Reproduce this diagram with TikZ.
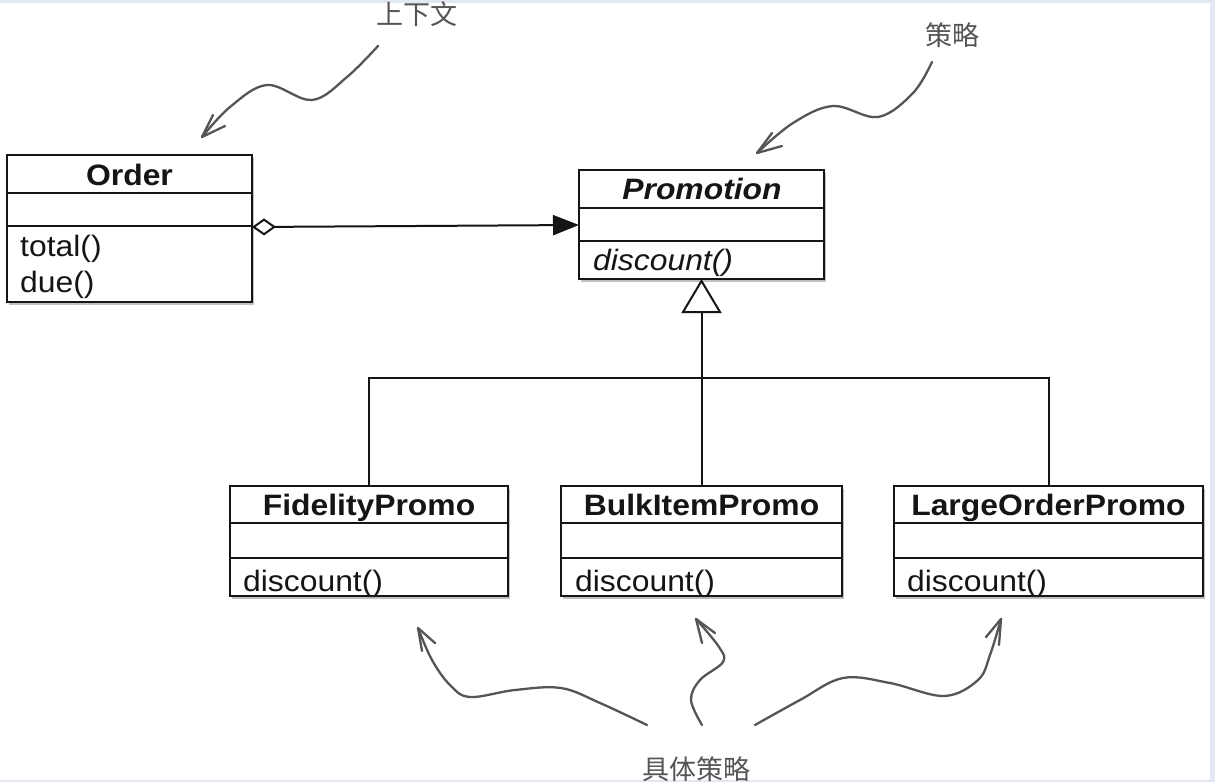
\documentclass[tikz,border=0pt]{standalone}
\usepackage{fontspec}
\usepackage{graphicx}
\setmainfont{Liberation Sans}
\newfontfamily\cjk{Noto Sans CJK SC}
\usetikzlibrary{arrows.meta,shadows,calc}
\definecolor{annot}{RGB}{85,85,85}
\definecolor{edgecol}{RGB}{226,231,243}
\definecolor{ink}{RGB}{22,20,20}
\newcommand{\stretchtxt}[1]{\scalebox{1.08}[1]{#1}}
\tikzset{
  classbox/.style={draw=ink, line width=2.3pt, fill=white, inner sep=0pt, outer sep=0pt,
    anchor=north west, drop shadow={shadow xshift=2pt, shadow yshift=-3pt, opacity=0.35, fill=black!70}},
  divider/.style={draw=ink, line width=2pt},
  ttl/.style={font=\fontsize{29.5}{34}\selectfont\bfseries, anchor=base, inner sep=0pt, text=ink},
  meth/.style={font=\fontsize{29.5}{34}\selectfont, anchor=base west, inner sep=0pt, text=ink},
  hand/.style={draw=annot, line width=2.3pt, line cap=round, line join=round},
  cn/.style={font=\cjk\fontsize{27}{30}\selectfont, text=annot, inner sep=0pt}
}
\begin{document}
\begin{tikzpicture}[x=1pt,y=1pt]
\useasboundingbox (0,0) rectangle (1215,-782);
\fill[white] (0,0) rectangle (1215,-782);
\fill[edgecol] (0,0) rectangle (1215,-2.5);
\fill[edgecol] (1210,0) rectangle (1215,-782);
\fill[edgecol] (0,-779.5) rectangle (1215,-782);

% classes
\node[classbox, minimum width=245pt, minimum height=147pt] (order) at (7,-155) {};
\draw[divider] ([yshift=-38pt]order.north west) -- ([yshift=-38pt]order.north east);
\draw[divider] ([yshift=-71pt]order.north west) -- ([yshift=-71pt]order.north east);
\node[ttl] (ordert) at (129.5,-185) {\stretchtxt{Order}};
\node[meth] (orderm1) at (20,-256) {\stretchtxt{total()}};
\node[meth] (orderm2) at (20,-292) {\stretchtxt{due()}};

\node[classbox, minimum width=245pt, minimum height=109pt] (promo) at (579,-170) {};
\draw[divider] ([yshift=-38pt]promo.north west) -- ([yshift=-38pt]promo.north east);
\draw[divider] ([yshift=-71pt]promo.north west) -- ([yshift=-71pt]promo.north east);
\node[ttl, font=\fontsize{29.5}{34}\selectfont\bfseries\itshape] (promot) at (702,-199) {\stretchtxt{Promotion}};
\node[meth, font=\fontsize{29.5}{34}\selectfont\itshape] (promom) at (593,-270) {\stretchtxt{discount()}};

\node[classbox, minimum width=278pt, minimum height=110pt] (fid) at (230,-486) {};
\draw[divider] ([yshift=-37pt]fid.north west) -- ([yshift=-37pt]fid.north east);
\draw[divider] ([yshift=-72pt]fid.north west) -- ([yshift=-72pt]fid.north east);
\node[ttl] (fidt) at (369,-515) {\stretchtxt{FidelityPromo}};
\node[meth] (fidm) at (243,-591) {\stretchtxt{discount()}};

\node[classbox, minimum width=281pt, minimum height=110pt] (bulk) at (561,-486) {};
\draw[divider] ([yshift=-37pt]bulk.north west) -- ([yshift=-37pt]bulk.north east);
\draw[divider] ([yshift=-72pt]bulk.north west) -- ([yshift=-72pt]bulk.north east);
\node[ttl] (bulkt) at (701.5,-515) {\stretchtxt{BulkItemPromo}};
\node[meth] (bulkm) at (575,-591) {\stretchtxt{discount()}};

\node[classbox, minimum width=309pt, minimum height=110pt] (large) at (894,-486) {};
\draw[divider] ([yshift=-37pt]large.north west) -- ([yshift=-37pt]large.north east);
\draw[divider] ([yshift=-72pt]large.north west) -- ([yshift=-72pt]large.north east);
\node[ttl] (larget) at (1048.5,-515) {\stretchtxt{LargeOrderPromo}};
\node[meth] (largem) at (907,-591) {\stretchtxt{discount()}};

% association
\draw[divider, {Diamond[open,length=24pt,width=17pt,line width=2pt]}-{Triangle[length=26pt,width=20pt]}]
  ([yshift=-72pt]order.north east) -- ([yshift=-55pt]promo.north west);

% generalization
\coordinate (bar) at (701.5,-378);
\draw[divider, -{Triangle[open,length=34pt,width=40pt,line width=2pt]}] (bulk.north) -- (promo.south);
\draw[divider] (fid.north) |- (bar) -| (large.north);

% annotations
\node[cn] (ctx) at (417,-14) {上下文};
\node[cn] (strat) at (952,-35) {策略};
\node[cn, anchor=north] (conc) at (696,-756) {具体策略};

\coordinate (ctxs) at (378,-46);
\coordinate (ctxtip) at (202,-137);
\draw[hand] plot[smooth, tension=0.6] coordinates {(ctxs) (347,-77) (312,-100) (267,-85) (230,-107) (ctxtip)};
\draw[hand] (213,-115) -- (ctxtip) -- (225,-126);

\coordinate (strs) at (932,-62);
\coordinate (strtip) at (757,-153);
\draw[hand] plot[smooth, tension=0.6] coordinates {(strs) (913,-93) (878,-117) (833,-106) (793,-123) (strtip)};
\draw[hand] (772,-133) -- (strtip) -- (782,-146);

\coordinate (c1s) at (647,-725);
\coordinate (c1tip) at (418,-628);
\draw[hand] plot[smooth, tension=0.6] coordinates {(c1s) (600,-703) (561,-688) (515,-690) (470,-697) (450,-685) (432,-660) (c1tip)};
\draw[hand] (422,-651) -- (c1tip) -- (435,-643);

\coordinate (c2s) at (702,-725);
\coordinate (c2tip) at (696,-619);
\draw[hand] plot[smooth, tension=0.6] coordinates {(c2s) (691,-700) (700,-680) (723,-662) (719,-647) (c2tip)};
\draw[hand] (702,-643) -- (c2tip) -- (715,-633);

\coordinate (c3s) at (755,-725);
\coordinate (c3tip) at (1001,-619);
\draw[hand] plot[smooth, tension=0.6] coordinates {(c3s) (800,-700) (843,-678) (890,-683) (944,-696) (978,-680) (990,-655) (c3tip)};
\draw[hand] (986,-637) -- (c3tip) -- (999,-645);
\end{tikzpicture}
\end{document}
